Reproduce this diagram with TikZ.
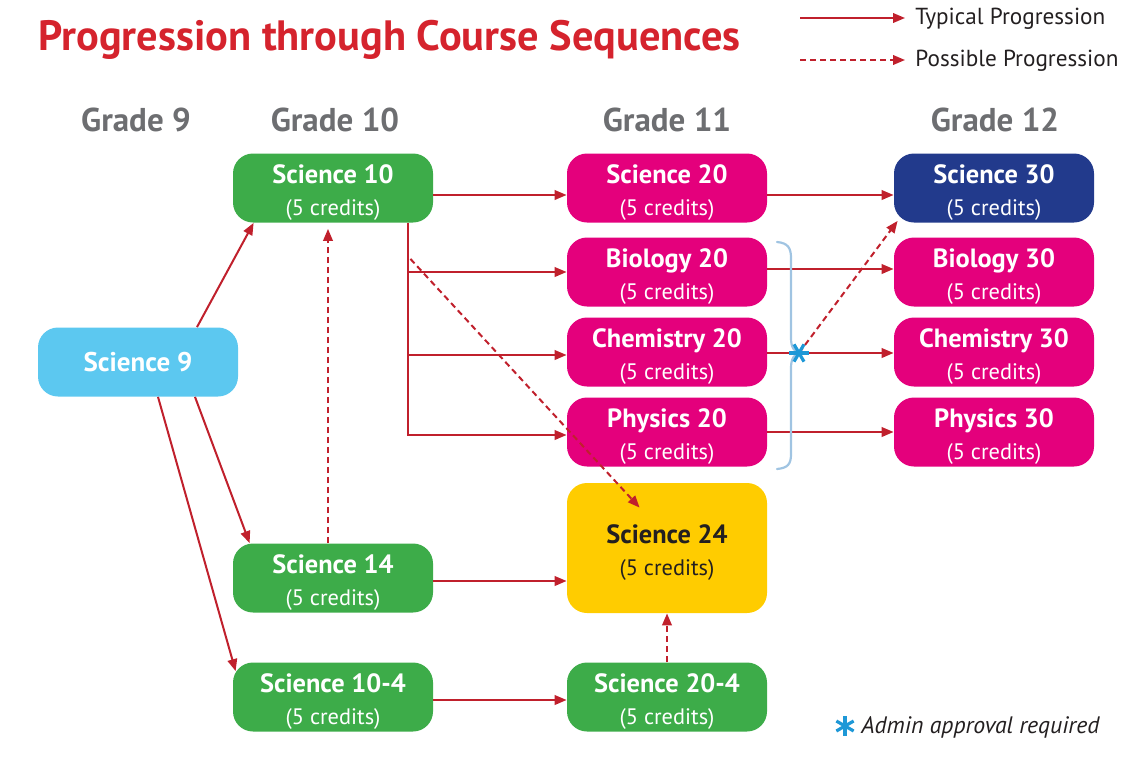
\documentclass[tikz,border=0pt]{standalone}
\usepackage{fontspec}
\setmainfont{PT Sans}
\usetikzlibrary{arrows.meta,calc}
\definecolor{titlered}{RGB}{213,35,45}
\definecolor{arrred}{RGB}{192,32,44}
\definecolor{sgreen}{RGB}{61,172,73}
\definecolor{smag}{RGB}{228,0,124}
\definecolor{snavy}{RGB}{34,58,140}
\definecolor{sblue}{RGB}{92,200,240}
\definecolor{syellow}{RGB}{255,204,0}
\definecolor{hgray}{RGB}{109,110,113}
\definecolor{bracec}{RGB}{160,196,226}
\definecolor{astc}{RGB}{30,152,215}
\definecolor{dtext}{RGB}{35,31,32}
\newcommand\crs[1]{{\fontsize{13.2}{16}\selectfont\bfseries\rule{0pt}{14pt}#1}\\{\fontsize{11.2}{16}\selectfont (5 credits)}}
\begin{document}
\begin{tikzpicture}[x=0.5pt,y=-0.5pt,
  box/.style={rectangle, rounded corners=10pt, minimum width=100pt, minimum height=34.5pt, inner sep=0pt, align=center, text=white, font=\fontsize{11}{16}\selectfont},
  g/.style={box, fill=sgreen},
  m/.style={box, fill=smag},
  grade/.style={font=\fontsize{16.5}{18}\selectfont\bfseries, text=hgray},
  arr/.style={draw=arrred, line width=1pt, -{Triangle[length=6pt,width=4.8pt]}},
  darr/.style={arr, dash pattern=on 3pt off 2pt}
]
\useasboundingbox (0,0) rectangle (1124,761);
% title
\node[anchor=base west, inner sep=0pt, text=titlered, font=\fontsize{21.2}{24}\selectfont\bfseries] (title) at (38,50) {Progression through Course Sequences};
% legend
\coordinate (l1a) at (800,18); \coordinate (l1b) at (905,18);
\coordinate (l2a) at (800,60); \coordinate (l2b) at (905,60);
\draw[arr] (l1a) -- (l1b);
\draw[darr] (l2a) -- (l2b);
\node[anchor=west, inner sep=0pt, font=\fontsize{11.6}{13}\selectfont, text=dtext] (lt1) at (915,19) {Typical Progression};
\node[anchor=west, inner sep=0pt, font=\fontsize{11.6}{13}\selectfont, text=dtext] (lt2) at (915,61) {Possible Progression};
% grades
\node[grade] (g9) at (136,120) {Grade 9};
\node[grade] (g10) at (335,120) {Grade 10};
\node[grade] (g11) at (667,120) {Grade 11};
\node[grade] (g12) at (995,120) {Grade 12};
% nodes
\node[box, fill=sblue, font=\fontsize{13.5}{16}\selectfont\bfseries] (s9) at (138,362) {Science 9};
\node[g] (s10) at (333,188) {\crs{Science 10}};
\node[g] (s14) at (333,578) {\crs{Science 14}};
\node[g] (s104) at (333,697) {\crs{Science 10-4}};
\node[m] (s20) at (667,188) {\crs{Science 20}};
\node[m] (b20) at (667,272) {\crs{Biology 20}};
\node[m] (c20) at (667,352) {\crs{Chemistry 20}};
\node[m] (p20) at (667,432) {\crs{Physics 20}};
\node[box, fill=syellow, minimum height=65pt, text=dtext] (s24) at (667,548) {\crs{Science 24}};
\node[g] (s204) at (667,697) {\crs{Science 20-4}};
\node[box, fill=snavy] (s30) at (994,188) {\crs{Science 30}};
\node[m] (b30) at (994,272) {\crs{Biology 30}};
\node[m] (c30) at (994,352) {\crs{Chemistry 30}};
\node[m] (p30) at (994,432) {\crs{Physics 30}};
% connectors
\draw[arr] ($(s9.north)+(59,0)$) -- ($(s10.south west)+(21,0)$);
\draw[arr] ($(s9.south)+(57,0)$) -- ($(s14.north west)+(17,0)$);
\draw[arr] ($(s9.south)+(20,0)$) -- ($(s104.north west)+(3,9)$);
\draw[darr] ($(s14.north)+(-5,0)$) -- ($(s10.south)+(-5,6)$);
\draw[arr] ($(s10.east)+(0,7)$) -- ($(s20.west)+(0,7)$);
\coordinate (br) at ($(s10.south east)+(-25,0)$);
\draw[arr] (br) |- ($(p20.west)+(0,3)$);
\draw[arr] (br |- b20.west) -- (b20.west);
\draw[arr] ($(br |- c20.west)+(0,3)$) -- ($(c20.west)+(0,3)$);
\draw[darr] ($(br)+(2,36)$) -- ($(s24.north west)+(73,25)$);
\draw[arr] ($(s14.east)+(0,3)$) -- ($(s24.west)+(0,33)$);
\draw[arr] ($(s104.east)+(0,3)$) -- ($(s204.west)+(0,3)$);
\draw[darr] (s204.north) -- (s24.south);
\draw[arr] ($(s20.east)+(0,7)$) -- ($(s30.west)+(0,7)$);
\draw[arr] ($(b20.east)+(0,-3)$) -- ($(b30.west)+(0,-3)$);
\draw[arr] ($(c20.east)+(0,1)$) -- ($(c30.west)+(0,1)$);
\draw[arr] (p20.east) -- (p30.west);
% brace
\draw[bracec, line width=1.1pt, line cap=round]
  (777,242) .. controls (788,243) and (791,248) .. (791,258)
  -- (791,338) .. controls (791,347) and (794,352) .. (800,353)
  .. controls (794,354) and (791,359) .. (791,368)
  -- (791,454) .. controls (791,464) and (788,468) .. (777,469);
% asterisk
\coordinate (ast) at (799,353);
\draw[darr] (ast) -- ($(s30.south west)+(4,-2)$);
\foreach \a in {0,60,120} \draw[astc, line width=1.6pt] ($(ast)+(\a:5pt)$) -- ($(ast)+(\a+180:5pt)$);
% admin legend
\coordinate (ast2) at (845,726);
\foreach \a in {90,30,150} \draw[astc, line width=1.6pt] ($(ast2)+(\a:5pt)$) -- ($(ast2)+(\a+180:5pt)$);
\node[anchor=west, inner sep=0pt, font=\fontsize{11.9}{13}\selectfont\itshape, text=dtext] (adm) at (861,727) {Admin approval required};
\end{tikzpicture}
\end{document}
